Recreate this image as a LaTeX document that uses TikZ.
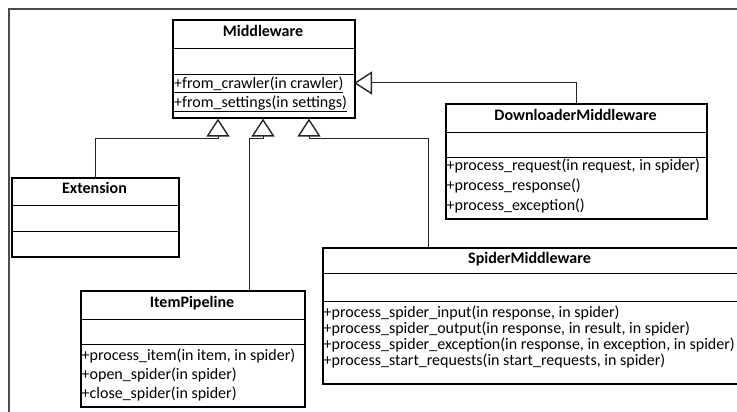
\documentclass[tikz,border=0pt]{standalone}
\usepackage{fontspec}
\setmainfont{Carlito}
\usetikzlibrary{arrows.meta}
\begin{document}
\begin{tikzpicture}[x=1pt,y=-1pt,
  classbox/.style={draw=black, line width=1.6pt, inner sep=0pt, anchor=north west},
  divider/.style={draw=black, line width=0.9pt},
  hdr/.style={font=\fontsize{16}{18}\selectfont\bfseries, inner sep=0pt, anchor=mid},
  meth/.style={font=\fontsize{16}{18}\selectfont, inner sep=0pt, anchor=mid west},
  inherit/.style={draw=black!85, line width=1pt, -{Triangle[open, length=18pt, width=23pt, line width=1.4pt]}},
  frameline/.style={draw=black!70, line width=1.5pt}]
\useasboundingbox (0,0) rectangle (737,412);
% frame
\draw[frameline] (9,412) -- (9,9) -- (737,9);

% Middleware
\node[classbox, minimum width=182pt, minimum height=97.5pt] (mw) at (172,19.5) {};
\draw[divider] ([yshift=-28.5pt]mw.north west) -- ([yshift=-28.5pt]mw.north east);
\draw[divider] ([yshift=-54.5pt]mw.north west) -- ([yshift=-54.5pt]mw.north east);
\node[hdr] (mwh) at (263,34.5) {Middleware};
\node[meth] (mw1) at (174,86) {\underline{+from\_crawler(in crawler)}};
\node[meth] (mw2) at (174,105) {\underline{+from\_settings(in settings)}};

% DownloaderMiddleware
\node[classbox, minimum width=261pt, minimum height=115pt] (dm) at (445,103) {};
\draw[divider] ([yshift=-29pt]dm.north west) -- ([yshift=-29pt]dm.north east);
\draw[divider] ([yshift=-54pt]dm.north west) -- ([yshift=-54pt]dm.north east);
\node[hdr] (dmh) at (575.5,118) {DownloaderMiddleware};
\node[meth] (dm1) at (446.5,168) {+process\_request(in request, in spider)};
\node[meth] (dm2) at (446.5,188) {+process\_response()};
\node[meth] (dm3) at (446.5,208) {+process\_exception()};

% Extension
\node[classbox, minimum width=167pt, minimum height=79pt] (ext) at (11,177) {};
\draw[divider] ([yshift=-28pt]ext.north west) -- ([yshift=-28pt]ext.north east);
\draw[divider] ([yshift=-54pt]ext.north west) -- ([yshift=-54pt]ext.north east);
\node[hdr] (exth) at (94.5,191.5) {Extension};

% ItemPipeline
\node[classbox, minimum width=224pt, minimum height=116pt] (ip) at (80,290) {};
\draw[divider] ([yshift=-29pt]ip.north west) -- ([yshift=-29pt]ip.north east);
\draw[divider] ([yshift=-54pt]ip.north west) -- ([yshift=-54pt]ip.north east);
\node[hdr] (iph) at (192,305.5) {ItemPipeline};
\node[meth] (ip1) at (81.5,358) {+process\_item(in item, in spider)};
\node[meth] (ip2) at (81.5,377) {+open\_spider(in spider)};
\node[meth] (ip3) at (81.5,396) {+close\_spider(in spider)};

% SpiderMiddleware
\node[classbox, minimum width=415pt, minimum height=136pt] (sp) at (322,247) {};
\draw[divider] ([yshift=-26pt]sp.north west) -- ([yshift=-26pt]sp.north east);
\draw[divider] ([yshift=-54pt]sp.north west) -- ([yshift=-54pt]sp.north east);
\node[hdr] (sph) at (529.5,261) {SpiderMiddleware};
\node[meth] (sp1) at (323.5,315) {+process\_spider\_input(in response, in spider)};
\node[meth] (sp2) at (323.5,331) {+process\_spider\_output(in response, in result, in spider)};
\node[meth] (sp3) at (323.5,347) {+process\_spider\_exception(in response, in exception, in spider)};
\node[meth] (sp4) at (323.5,363) {+process\_start\_requests(in start\_requests, in spider)};

% connector points on Middleware
\coordinate (mwA) at ([xshift=46pt]mw.south west);
\coordinate (mwB) at ([xshift=91pt]mw.south west);
\coordinate (mwC) at ([xshift=137pt]mw.south west);
\coordinate (mwR) at (354,83);

% inheritance connectors
\draw[inherit] (ext.north) |- ([yshift=-20pt]mwA) -- (mwA);
\draw[inherit] ([xshift=169pt]ip.north west) |- ([yshift=-20pt]mwB) -- (mwB);
\draw[inherit] ([xshift=106pt]sp.north west) |- ([yshift=-20pt]mwC) -- (mwC);
\draw[inherit] (dm.north) |- (mwR);
\end{tikzpicture}
\end{document}
